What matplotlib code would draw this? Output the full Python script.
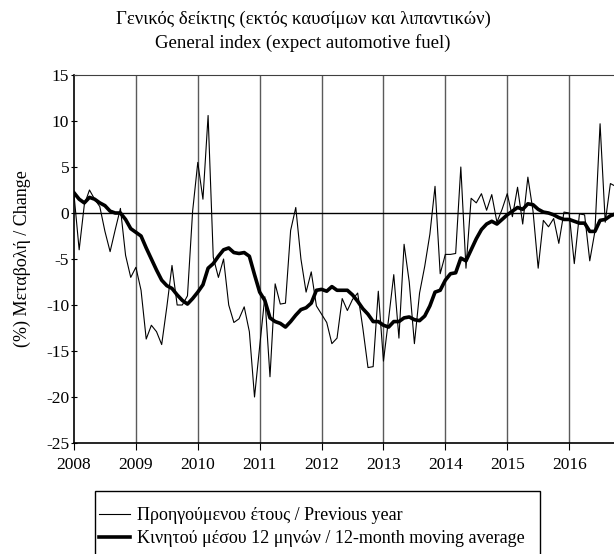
import numpy as np
import matplotlib
matplotlib.use("Agg")
import matplotlib.pyplot as plt
from matplotlib.patches import Rectangle

plt.rcParams["font.family"] = ["Liberation Serif", "DejaVu Serif"]
plt.rcParams["axes.unicode_minus"] = False

# monthly values, Jan 2008 onwards
start_year = 2008
prev_year = [
    2.0, -4.0, 0.9, 2.5, 1.5, 0.7, -2.0, -4.2, -1.8, 0.5, -4.6, -7.0,
    -5.9, -8.4, -13.7, -12.2, -12.9, -14.3, -10.2, -5.7, -10.0, -10.0, -9.0, 0.2,
    5.5, 1.5, 10.6, -4.8, -7.0, -5.0, -10.0, -11.9, -11.5, -10.2, -12.9, -20.0,
    -14.5, -9.1, -17.8, -7.7, -9.9, -9.8, -1.9, 0.6, -5.0, -8.6, -6.4, -10.1,
    -11.0, -11.9, -14.2, -13.6, -9.3, -10.6, -9.4, -8.7, -12.5, -16.8, -16.7, -8.5,
    -16.1, -11.5, -6.7, -13.6, -3.4, -7.5, -14.2, -8.7, -5.8, -2.3, 2.9, -6.6,
    -4.5, -4.5, -4.4, 5.0, -6.0, 1.6, 1.1, 2.1, 0.3, 2.0, -1.0, 0.4,
    2.1, -0.4, 2.8, -1.2, 3.9, 0.2, -6.0, -0.8, -1.5, -0.6, -3.3, 0.1,
    0.0, -5.5, -0.1, -0.2, -5.2, -2.0, 9.7, -1.0, 3.2, 2.9,
]
moving_avg = [
    2.2, 1.5, 1.1, 1.7, 1.5, 1.1, 0.8, 0.2, 0.0, 0.0, -0.7, -1.7,
    -2.1, -2.5, -3.8, -5.0, -6.2, -7.3, -7.9, -8.2, -8.9, -9.5, -9.9, -9.3,
    -8.6, -7.8, -6.0, -5.5, -4.7, -4.0, -3.8, -4.3, -4.4, -4.3, -4.7, -6.7,
    -8.6, -9.5, -11.4, -11.8, -12.0, -12.4, -11.8, -11.1, -10.5, -10.3, -9.8, -8.4,
    -8.3, -8.5, -8.0, -8.4, -8.4, -8.4, -8.9, -9.6, -10.4, -11.0, -11.8, -11.8,
    -12.2, -12.4, -11.8, -11.8, -11.4, -11.3, -11.6, -11.7, -11.2, -10.1, -8.6, -8.4,
    -7.3, -6.6, -6.5, -4.9, -5.2, -4.0, -2.8, -1.8, -1.2, -0.9, -1.2, -0.7,
    -0.2, 0.2, 0.6, 0.4, 1.0, 0.9, 0.4, 0.1, 0.0, -0.2, -0.5, -0.7,
    -0.7, -0.9, -1.1, -1.1, -2.0, -2.0, -0.8, -0.7, -0.3, -0.1,
]
years = list(range(2008, 2017))

title = "Γενικός δείκτης (εκτός καυσίμων και λιπαντικών)\nGeneral index (expect automotive fuel)"
ylabel = "(%) Μεταβολή / Change"
legend_labels = ["Προηγούμενου έτους / Previous year",
                 "Κινητού μέσου 12 μηνών / 12-month moving average"]

x = start_year + np.arange(len(prev_year)) / 12.0

W, H = 614, 554
fig = plt.figure(figsize=(W / 100, H / 100), dpi=100)
ax = fig.add_axes([74 / W, (H - 443) / H, 540 / W, 368 / H])

for yr in years[1:]:
    ax.axvline(yr, color="#5a5a5a", lw=1.0, zorder=1)
ax.axhline(0, color="black", lw=1.0, zorder=1)

l1, = ax.plot(x, prev_year, color="black", lw=0.8, zorder=3)
l2, = ax.plot(x, moving_avg, color="black", lw=2.6, zorder=4)

ax.set_xlim(start_year, start_year + 104.7 / 12)
ax.set_ylim(-25, 15)
ax.set_yticks(range(-25, 16, 5))
ax.set_xticks(years)
ax.set_xticklabels([str(y) for y in years])
ax.tick_params(axis="y", direction="inout", length=5, labelsize=12.5, pad=1)
ax.tick_params(axis="x", direction="out", length=5, labelsize=12.5, pad=5)
for s in ["left", "bottom"]:
    ax.spines[s].set_linewidth(1.2)
ax.spines["top"].set_color("#404040")
ax.spines["right"].set_visible(False)

ax.set_ylabel(ylabel, fontsize=13, labelpad=11)
fig.text(303 / W, 1 - 31 / H, title, ha="center", va="center",
         fontsize=13.5, linespacing=1.45)

# legend box runs off the bottom of the picture, as in the source
box_top = 491
fig.patches.append(Rectangle((95 / W, -0.1), 445 / W, 0.1 + 1 - box_top / H,
                             transform=fig.transFigure, fill=False,
                             edgecolor="black", lw=1.0))
fig.legend([l1, l2], legend_labels, loc="upper left",
           bbox_to_anchor=(99 / W, 1 - (box_top + 16) / H), borderaxespad=0,
           borderpad=0, fontsize=13, frameon=False,
           handlelength=1.7, handletextpad=0.4, labelspacing=0.35)

fig.savefig("out.png", dpi=100)
